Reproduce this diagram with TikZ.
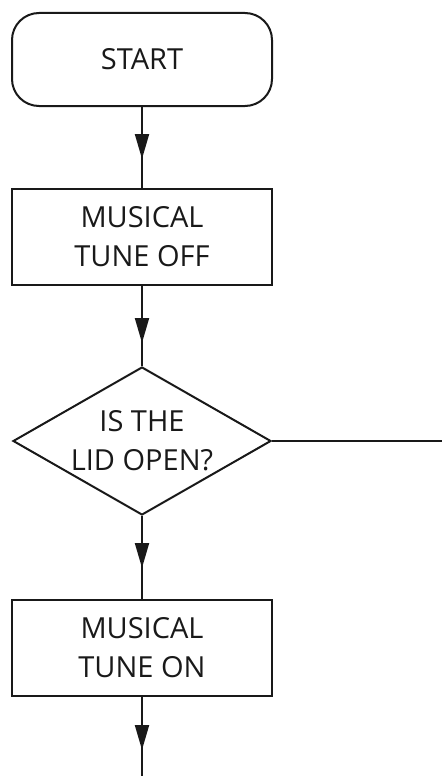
\documentclass[tikz,border=0pt]{standalone}
\usepackage{fontspec}
\setmainfont{Open Sans}
\usetikzlibrary{arrows.meta,shapes.geometric}
\begin{document}
\begin{tikzpicture}[x=1pt,y=-1pt,line width=2pt,color={black!90},
  txt/.style={align=center,font=\fontsize{29}{39}\selectfont,text=black!90},
  flowbox/.style={draw,rectangle,minimum width=260pt,minimum height=96pt,inner sep=0pt,txt},
  startbox/.style={flowbox,rounded corners=27pt,minimum height=93pt},
  decision/.style={draw,diamond,minimum width=258pt,minimum height=148pt,aspect=1.73,inner sep=0pt,txt},
  tipline/.style={-{Triangle[width=14pt,length=25pt]}}]
\useasboundingbox (0,0) rectangle (442,776);
\node[startbox] (start) at (142,59.5) {START};
\node[flowbox] (off) at (142,237) {MUSICAL\\TUNE OFF};
\node[decision] (dec) at (142,441) {IS THE\\LID OPEN?};
\node[flowbox] (on) at (142,648) {MUSICAL\\TUNE ON};
\coordinate (t1) at (142,159);
\coordinate (t2) at (142,343);
\coordinate (t3) at (142,568);
\coordinate (t4) at (142,750);
\coordinate (rightend) at (442,441);
\coordinate (bottomend) at (142,776);
\draw (start.south) -- (off.north);
\draw[tipline] (start.south) -- (t1);
\draw (off.south) -- (dec.north);
\draw[tipline] (off.south) -- (t2);
\draw (dec.south) -- (on.north);
\draw[tipline] (dec.south) -- (t3);
\draw (on.south) -- (bottomend);
\draw[tipline] (on.south) -- (t4);
\draw (dec.east) -- (rightend);
\end{tikzpicture}
\end{document}
